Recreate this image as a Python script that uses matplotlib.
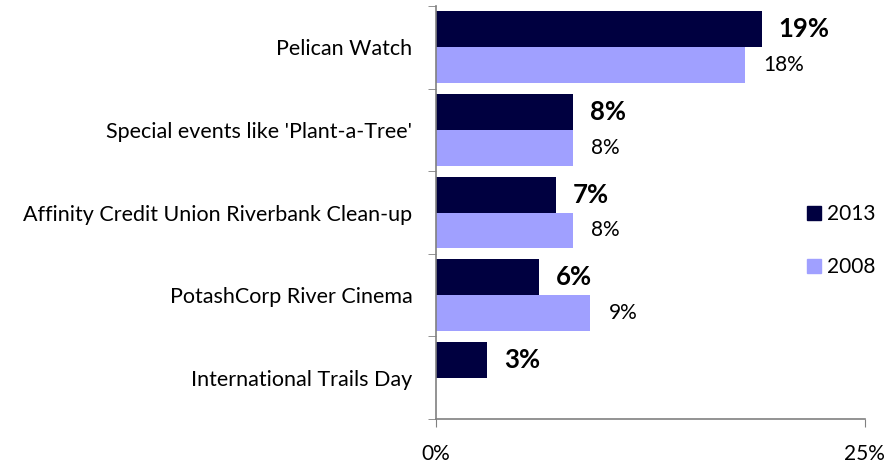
import numpy as np
import matplotlib.pyplot as plt
from matplotlib.lines import Line2D

plt.rcParams['font.family'] = ['Lato', 'DejaVu Sans']

categories = ['Pelican Watch', "Special events like 'Plant-a-Tree'",
              'Affinity Credit Union Riverbank Clean-up', 'PotashCorp River Cinema',
              'International Trails Day']
vals_2013 = [19, 8, 7, 6, 3]
vals_2008 = [18, 8, 8, 9, None]

c2013 = '#000040'
c2008 = '#A0A0FF'

fig = plt.figure(figsize=(8.88, 4.63), dpi=100)
ax = fig.add_axes([0.491, 0.095, 0.483, 0.892])

y = np.arange(len(categories))
h = 0.435
for i, v in enumerate(vals_2013):
    ax.barh(y[i] - h / 2, v, height=h, color=c2013)
    ax.annotate(f'{v}%', (v, y[i] - h / 2), xytext=(12, 0), textcoords='offset points',
                ha='left', va='center', fontsize=18.5, fontweight='bold')
for i, v in enumerate(vals_2008):
    if v is None:
        continue
    ax.barh(y[i] + h / 2, v, height=h, color=c2008)
    ax.annotate(f'{v}%', (v, y[i] + h / 2), xytext=(13, 0), textcoords='offset points',
                ha='left', va='center', fontsize=15)

ax.set_xlim(0, 25)
ax.set_ylim(len(categories) - 0.5, -0.5)
ax.set_xticks([0, 25])
ax.set_xticklabels(['0%', '25%'], fontsize=15)
ax.set_yticks(y)
ax.set_yticklabels(categories, fontsize=15.5)
ax.set_yticks(np.arange(-0.5, len(categories)), minor=True)
ax.tick_params(axis='y', which='major', length=0, pad=17)
ax.tick_params(axis='y', which='minor', length=6, color='#808080', direction='out')
ax.tick_params(axis='x', length=6, color='#808080', pad=12)

for s in ['top', 'right']:
    ax.spines[s].set_visible(False)
for s in ['left', 'bottom']:
    ax.spines[s].set_color('#808080')
    ax.spines[s].set_linewidth(1.2)

handles = [Line2D([], [], marker='s', ls='', color=c2013, markersize=10),
           Line2D([], [], marker='s', ls='', color=c2008, markersize=10)]
fig.legend(handles, ['2013', '2008'], loc='center left', bbox_to_anchor=(0.885, 0.48),
           frameon=False, fontsize=15, labelspacing=1.6, handletextpad=0.15,
           handlelength=0.9)

fig.savefig('out.png', dpi=100)
